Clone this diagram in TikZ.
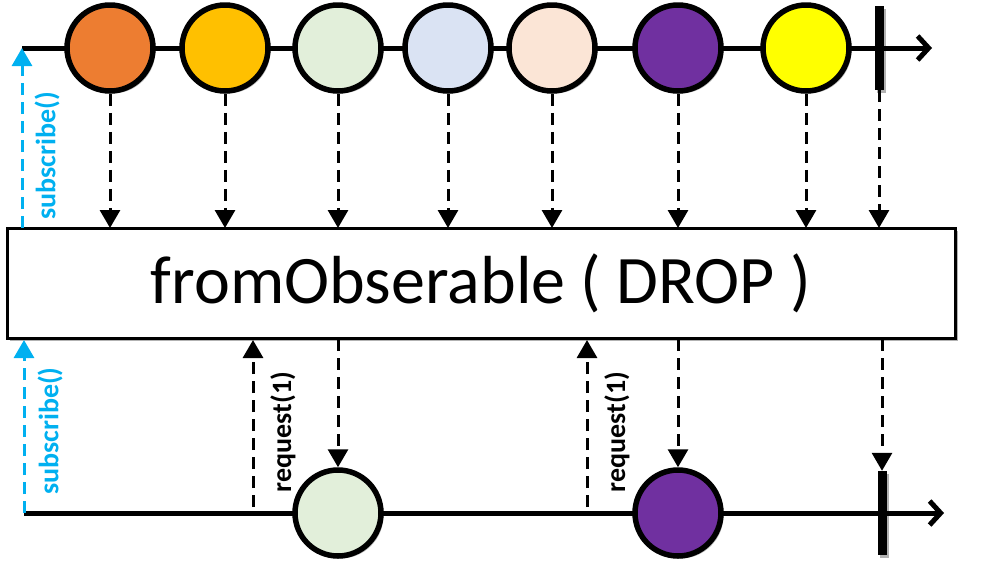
\documentclass[tikz,border=0pt]{standalone}
\usepackage{fontspec}
\setmainfont{Carlito}
\usetikzlibrary{arrows.meta,shadows}
\definecolor{cOrange}{HTML}{ED7D31}
\definecolor{cGold}{HTML}{FFC000}
\definecolor{cGreen}{HTML}{E2EFDA}
\definecolor{cBlue}{HTML}{DAE3F3}
\definecolor{cPeach}{HTML}{FBE5D6}
\definecolor{cPurple}{HTML}{7030A0}
\definecolor{cYellow}{HTML}{FFFF00}
\definecolor{cSub}{HTML}{00B0F0}
\tikzset{
  shad/.style={drop shadow={shadow xshift=2.5pt,shadow yshift=-2.5pt,opacity=0.3,fill=black}},
  marble/.style={circle,draw=black,line width=5.5pt,minimum size=86pt,inner sep=0pt,shad},
  timeline/.style={line width=5pt,-{Straight Barb[length=11pt,width=24pt,line width=5pt]}},
  endbar/.style={draw=none,fill=black,minimum width=9pt,minimum height=84pt,inner sep=0pt},
  emit/.style={dashed,dash pattern=on 12pt off 7pt,line width=3pt,-{Triangle[length=18pt,width=20pt]}},
  subarrow/.style={emit,draw=cSub,-{Triangle[length=18pt,width=20pt,fill=cSub]}},
  sublabel/.style={rotate=90,font=\fontsize{28}{28}\selectfont\bfseries,text=cSub,inner sep=0pt},
  reqlabel/.style={rotate=90,font=\fontsize{28}{28}\selectfont\bfseries,text=black,inner sep=0pt},
  opbox/.style={draw=black,line width=3pt,fill=white,minimum width=948pt,minimum height=110pt,inner sep=0pt,
    font=\fontsize{68}{68}\selectfont,shad}
}
\begin{document}
\begin{tikzpicture}[x=1pt,y=-1pt]
\useasboundingbox (0,0) rectangle (981,574);
% top timeline
\coordinate (tl) at (22,48);
\coordinate (tr) at (932,48);
\draw[timeline] (tl) -- (tr);
\node[marble,fill=cOrange] (a1) at (110,48) {};
\node[marble,fill=cGold] (a2) at (225,48) {};
\node[marble,fill=cGreen] (a3) at (338,48) {};
\node[marble,fill=cBlue] (a4) at (448,48) {};
\node[marble,fill=cPeach] (a5) at (552,48) {};
\node[marble,fill=cPurple] (a6) at (678,48) {};
\node[marble,fill=cYellow] (a7) at (806,48) {};
\node[endbar,shad] (ta) at (879,48) {};
% operator box
\node[opbox] (op) at (481,283) {fromObserable ( DROP )};
% top emissions
\foreach \n/\x in {a1/110,a2/225,a3/338,a4/448,a5/552,a6/678,a7/806,ta/879}{
  \coordinate (t\n) at (\x,228);
  \draw[emit] (\n.south) -- (t\n);
}
% subscribe top
\coordinate (s1a) at (22,228);
\draw[subarrow] (s1a) -- (tl);
\node[sublabel] (s1l) at (47,156) {subscribe()};
% bottom timeline
\coordinate (bl) at (24,513);
\coordinate (br) at (944,513);
\draw[timeline] (bl) -- (br);
\node[marble,fill=cGreen] (b1) at (338,513) {};
\node[marble,fill=cPurple] (b2) at (678,513) {};
\node[endbar,shad] (tb) at (882,513) {};
% bottom emissions
\coordinate (o1) at (338,339);
\coordinate (o2) at (678,339);
\coordinate (o3) at (882,339);
\draw[emit] (o1) -- (b1.north);
\draw[emit] (o2) -- (b2.north);
\draw[emit] (o3) -- (tb.north);
% requests
\coordinate (r1s) at (253,507);
\coordinate (r1e) at (253,340);
\coordinate (r2s) at (587,507);
\coordinate (r2e) at (587,340);
\draw[emit] (r1s) -- (r1e);
\draw[emit] (r2s) -- (r2e);
\node[reqlabel] (r1l) at (283,432) {request(1)};
\node[reqlabel] (r2l) at (617,432) {request(1)};
% subscribe bottom
\coordinate (s2a) at (24,340);
\draw[subarrow] (bl) -- (s2a);
\node[sublabel] (s2l) at (50,431) {subscribe()};
\end{tikzpicture}
\end{document}
